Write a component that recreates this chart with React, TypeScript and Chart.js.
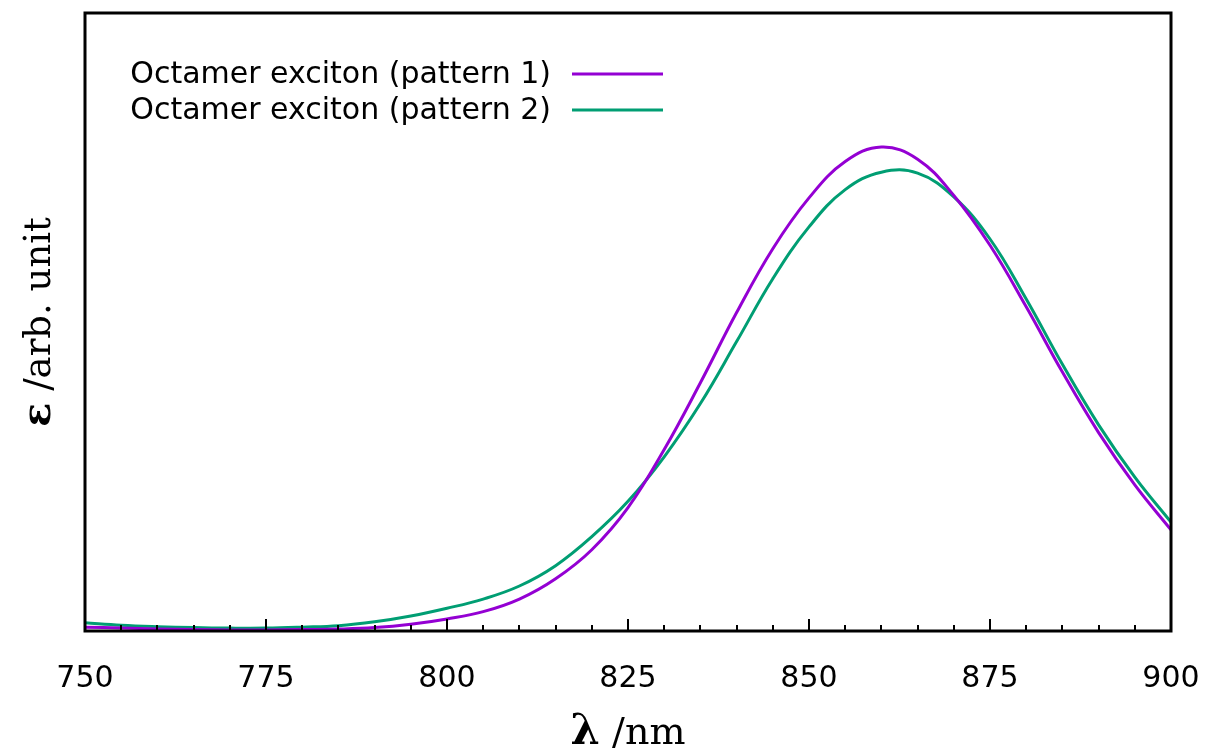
import React, { useEffect, useRef } from 'react';
import { Chart, registerables } from 'chart.js';

Chart.register(...registerables);

// ---- data ----
const wavelengths = [750, 755, 760, 765, 770, 775, 780, 785, 790, 795, 800, 805, 810, 815, 820, 825, 830, 835, 840, 845, 850, 855, 860, 865, 870, 875, 880, 885, 890, 895, 900];
const pattern1 = [0.008, 0.006, 0.004, 0.003, 0.002, 0.002, 0.003, 0.004, 0.007, 0.014, 0.025, 0.040, 0.066, 0.108, 0.168, 0.255, 0.375, 0.513, 0.658, 0.790, 0.895, 0.970, 1.000, 0.975, 0.900, 0.797, 0.670, 0.535, 0.410, 0.302, 0.209];
const pattern2 = [0.017, 0.012, 0.009, 0.007, 0.006, 0.006, 0.008, 0.011, 0.019, 0.031, 0.047, 0.066, 0.093, 0.135, 0.195, 0.268, 0.360, 0.470, 0.598, 0.728, 0.835, 0.912, 0.948, 0.946, 0.897, 0.810, 0.686, 0.551, 0.426, 0.318, 0.225];
const seriesLabels = ['Octamer exciton (pattern 1)', 'Octamer exciton (pattern 2)'];
const seriesColors = ['#9400D3', '#009E73'];
const xMin = 750;
const xMax = 900;
const xMajorStep = 25;
const xMinorStep = 5;
const yMax = 1.277;

const SANS = '"DejaVu Sans", sans-serif';
const SERIF = '"DejaVu Serif", serif';

type Part = { text: string; font: string };

function drawParts(ctx: CanvasRenderingContext2D, parts: Part[], cx: number, y: number) {
  let total = 0;
  const widths = parts.map((p) => {
    ctx.font = p.font;
    const w = ctx.measureText(p.text).width;
    total += w;
    return w;
  });
  let x = cx - total / 2;
  ctx.textAlign = 'left';
  ctx.textBaseline = 'alphabetic';
  parts.forEach((p, i) => {
    ctx.font = p.font;
    ctx.fillText(p.text, x, y);
    x += widths[i];
  });
}

const framePlugin = {
  id: 'frameAndDecor',
  afterDraw(chart: any) {
    const { ctx, chartArea } = chart;
    const { left, right, top, bottom } = chartArea;
    const xs = chart.scales.x;
    ctx.save();
    // inward ticks on bottom axis
    ctx.strokeStyle = '#000';
    ctx.lineWidth = 2;
    for (let v = xMin; v <= xMax; v += xMinorStep) {
      const px = Math.round(xs.getPixelForValue(v));
      const len = v % xMajorStep === 0 ? 12 : 6;
      ctx.beginPath();
      ctx.moveTo(px, bottom);
      ctx.lineTo(px, bottom - len);
      ctx.stroke();
    }
    // border
    ctx.lineWidth = 3;
    ctx.strokeRect(left, top, right - left, bottom - top);

    // legend
    ctx.font = `30px ${SANS}`;
    ctx.textAlign = 'right';
    ctx.textBaseline = 'middle';
    chart.data.datasets.forEach((ds: any, i: number) => {
      const y = top + 61 + i * 36;
      ctx.fillStyle = '#000';
      ctx.fillText(ds.label, left + 466, y + 1);
      ctx.strokeStyle = ds.borderColor;
      ctx.lineWidth = 3;
      ctx.beginPath();
      ctx.moveTo(left + 487, y);
      ctx.lineTo(left + 578, y);
      ctx.stroke();
    });

    // axis titles
    ctx.fillStyle = '#000';
    drawParts(
      ctx,
      [
        { text: 'λ', font: `bold 42px ${SERIF}` },
        { text: ' /nm', font: `38px ${SERIF}` },
      ],
      (left + right) / 2,
      744
    );
    ctx.save();
    ctx.translate(50, (top + bottom) / 2);
    ctx.rotate(-Math.PI / 2);
    drawParts(
      ctx,
      [
        { text: 'ε', font: `bold 40px ${SERIF}` },
        { text: ' /arb. unit', font: `37px ${SERIF}` },
      ],
      0,
      0
    );
    ctx.restore();
    ctx.restore();
  },
};

export default function App() {
  const canvasRef = useRef<HTMLCanvasElement | null>(null);

  useEffect(() => {
    document.body.style.margin = '0';
    const canvas = canvasRef.current;
    if (!canvas) return;
    const datasets = [pattern1, pattern2].map((vals, i) => ({
      label: seriesLabels[i],
      data: wavelengths.map((w, j) => ({ x: w, y: vals[j] })),
      borderColor: seriesColors[i],
      backgroundColor: seriesColors[i],
      borderWidth: 3,
      pointRadius: 0,
      tension: 0.4,
      fill: false,
    }));
    const chart = new Chart(canvas, {
      type: 'line',
      data: { datasets },
      options: {
        responsive: false,
        animation: false,
        layout: { padding: { top: 13, right: 37, left: 0, bottom: 0 } },
        plugins: { legend: { display: false }, tooltip: { enabled: false } },
        scales: {
          x: {
            type: 'linear',
            min: xMin,
            max: xMax,
            grid: { display: false, drawTicks: false },
            border: { display: false },
            afterBuildTicks: (scale: any) => {
              const t = [];
              for (let v = xMin; v <= xMax; v += xMajorStep) t.push({ value: v });
              scale.ticks = t;
            },
            ticks: {
              color: '#000',
              font: { family: SANS, size: 30 },
              padding: 30,
              maxRotation: 0,
              autoSkip: false,
            },
            afterFit: (scale: any) => {
              scale.height = 122;
              scale.paddingLeft = 0;
              scale.paddingRight = 0;
            },
          },
          y: {
            min: 0,
            max: yMax,
            grid: { display: false, drawTicks: false },
            border: { display: false },
            ticks: { display: false },
            afterFit: (scale: any) => {
              scale.width = 85;
              scale.paddingTop = 0;
              scale.paddingBottom = 0;
            },
          },
        },
      },
      plugins: [framePlugin],
    });
    return () => chart.destroy();
  }, []);

  return (
    <div style={{ position: 'absolute', left: 0, top: 0, width: 1208, height: 753, background: '#fff' }}>
      <canvas ref={canvasRef} width={1208} height={753} style={{ display: 'block' }} />
    </div>
  );
}
